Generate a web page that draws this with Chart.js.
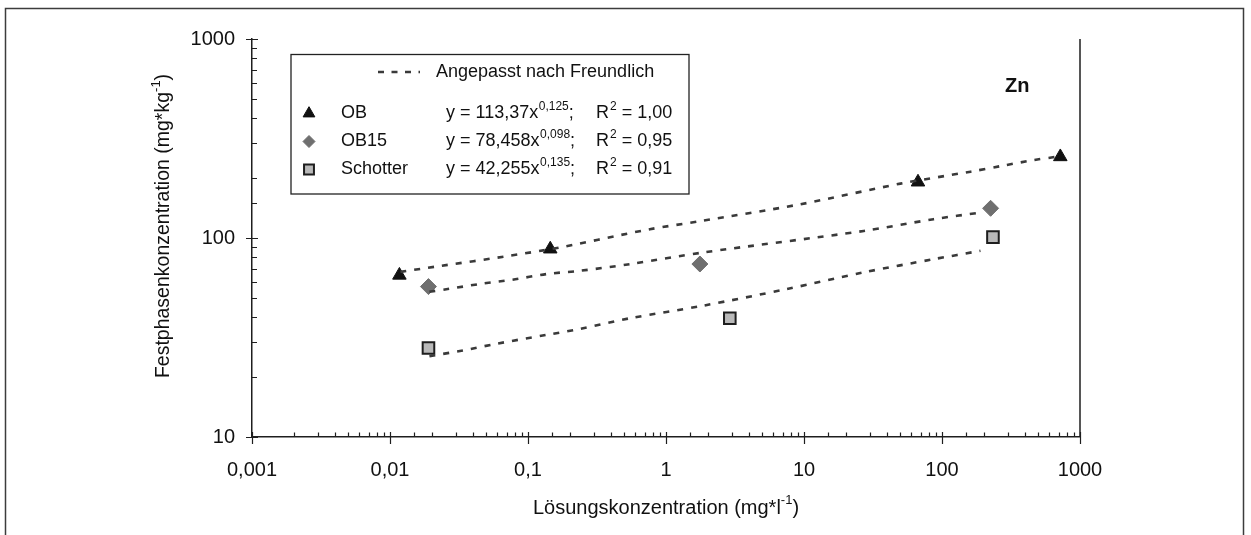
<!DOCTYPE html>
<html>
<head>
<meta charset="utf-8">
<title>Zn – Freundlich-Isothermen</title>
<script src="https://cdn.jsdelivr.net/npm/chart.js@4/dist/chart.umd.min.js"></script>
<style>
  html, body { margin: 0; padding: 0; background: #fff; }
  #wrap { width: 1251px; height: 535px; position: relative; }
  canvas { display: block; }
</style>
</head>
<body>
<div id="wrap"><canvas id="c" width="1251" height="535"></canvas></div>
<script>
// Messwerte: Lösungskonzentration (mg/l) und Festphasenkonzentration (mg/kg)
const obX = [0.0117, 0.145, 67, 720];
const obY = [65, 88, 191, 256];
const ob15X = [0.019, 1.76, 225];
const ob15Y = [57, 74, 141];
const schotterX = [0.019, 2.9, 234];
const schotterY = [28, 39.5, 101];

// Angepasste Kurven nach Freundlich (gestrichelt)
const obFitX = [0.0119, 0.136, 0.764, 1.76, 9.39, 50.0, 161, 266, 462, 667];
const obFitY = [67.6, 87.2, 110.7, 121.4, 147.7, 187.6, 215.4, 229.8, 246.3, 255.6];
const ob15FitX = [0.0193, 0.0262, 0.0445, 0.0773, 0.136, 0.237, 0.547, 1.86, 27.1, 86.8, 190];
const ob15FitY = [53.7, 55.4, 58.7, 61.7, 65.9, 68.4, 73.9, 84.6, 108.5, 124.3, 134.2];
const schotterFitX = [0.0193, 0.0337, 0.0589, 0.136, 0.237, 0.547, 1.86, 7.51, 27.1, 87.2, 190];
const schotterFitY = [25.5, 27.2, 29.4, 32.6, 34.9, 39.5, 45.7, 55.4, 67.2, 78.3, 86.2];

// Achsenbeschriftung
const xTickLabels = ['0,001', '0,01', '0,1', '1', '10', '100', '1000'];
const yTickLabels = ['10', '100', '1000'];
const xRange = [0.001, 1000];
const yRange = [10, 1000];

// Legendentexte
const fitLabel = 'Angepasst nach Freundlich';
const seriesNames = ['OB', 'OB15', 'Schotter'];
const eqA = ['113,37', '78,458', '42,255'];
const eqB = ['0,125', '0,098', '0,135'];
const r2 = ['1,00', '0,95', '0,91'];
const elementLabel = 'Zn';

const FONT = '"Liberation Sans", Arial, Helvetica, sans-serif';
const zip = (xs, ys) => xs.map((x, i) => ({ x, y: ys[i] }));

function decadeLabel(v, labels, min) {
  const e = Math.log10(v);
  if (Math.abs(e - Math.round(e)) > 1e-6) return '';
  const idx = Math.round(e - Math.log10(min));
  return labels[idx] !== undefined ? labels[idx] : '';
}

const fitStyle = {
  type: 'line', showLine: true, pointRadius: 0, borderColor: '#3a3a3a',
  borderWidth: 2.6, borderDash: [6, 8], fill: false, tension: 0.3
};

const markers = [
  { pointStyle: 'triangle', radius: 7.8, bg: '#111111', border: '#111111', bw: 1 },
  { pointStyle: 'rectRot', radius: 8, bg: '#6f6f6f', border: '#6f6f6f', bw: 1 },
  { pointStyle: 'rect', radius: 8.2, bg: '#b9b9b9', border: '#1e1e1e', bw: 2 }
];

function pointSet(label, data, m) {
  return {
    type: 'scatter', label, data, showLine: false,
    pointStyle: m.pointStyle, pointRadius: m.radius, pointBackgroundColor: m.bg,
    pointBorderColor: m.border, pointBorderWidth: m.bw
  };
}

// Rahmen, Teilstriche, Legende, Achsentitel
const decor = {
  id: 'decor',
  afterDraw(chart) {
    const { ctx, chartArea: a, scales } = chart;
    const xs = scales.x, ys = scales.y;
    ctx.save();

    // äußerer Rahmen
    ctx.strokeStyle = '#3c3c3c';
    ctx.lineWidth = 1.5;
    ctx.beginPath();
    ctx.moveTo(5.5, 540); ctx.lineTo(5.5, 8.5); ctx.lineTo(1243.5, 8.5); ctx.lineTo(1243.5, 540);
    ctx.stroke();

    // rechte Begrenzung des Diagramms
    ctx.strokeStyle = '#1e1e1e';
    ctx.lineWidth = 1.5;
    ctx.beginPath();
    ctx.moveTo(a.right, a.top); ctx.lineTo(a.right, a.bottom);
    ctx.stroke();

    // Teilstriche
    ctx.lineWidth = 1.2;
    ctx.beginPath();
    xs.ticks.forEach(t => {
      const px = Math.round(xs.getPixelForValue(t.value)) + 0.5;
      const major = decadeLabel(t.value, xTickLabels, xRange[0]) !== '';
      if (major) { ctx.moveTo(px, a.bottom - 5); ctx.lineTo(px, a.bottom + 7); }
      else { ctx.moveTo(px, a.bottom); ctx.lineTo(px, a.bottom - 4.5); }
    });
    ys.ticks.forEach(t => {
      const py = Math.round(ys.getPixelForValue(t.value)) + 0.5;
      const major = decadeLabel(t.value, yTickLabels, yRange[0]) !== '';
      if (major) { ctx.moveTo(a.left - 6, py); ctx.lineTo(a.left + 6, py); }
      else { ctx.moveTo(a.left, py); ctx.lineTo(a.left + 5, py); }
    });
    ctx.stroke();

    // Element
    ctx.fillStyle = '#111';
    ctx.font = 'bold 20px ' + FONT;
    ctx.textAlign = 'left';
    ctx.textBaseline = 'middle';
    ctx.fillText(elementLabel, 1005, 86);

    // Legende
    const L = { x: 291, y: 54.5, w: 398, h: 139.5 };
    ctx.fillStyle = '#fff';
    ctx.fillRect(L.x, L.y, L.w, L.h);
    ctx.strokeStyle = '#222';
    ctx.lineWidth = 1.3;
    ctx.strokeRect(L.x, L.y, L.w, L.h);

    ctx.strokeStyle = '#3a3a3a';
    ctx.lineWidth = 2.6;
    ctx.setLineDash([6, 7.5]);
    ctx.beginPath(); ctx.moveTo(378, 72); ctx.lineTo(420, 72); ctx.stroke();
    ctx.setLineDash([]);

    ctx.fillStyle = '#111';
    ctx.font = '18px ' + FONT;
    ctx.textBaseline = 'middle';
    ctx.fillText(fitLabel, 436, 72);

    const rows = [113.5, 141.5, 169.5];
    const legendMarks = [
      { style: 'triangle', r: 6.8 },
      { style: 'rectRot', r: 6 },
      { style: 'rect', r: 7 }
    ];
    rows.forEach((ry, i) => {
      const m = markers[i];
      ctx.fillStyle = m.bg; ctx.strokeStyle = m.border; ctx.lineWidth = m.bw;
      Chart.helpers.drawPoint(ctx, { pointStyle: legendMarks[i].style, radius: legendMarks[i].r, borderWidth: m.bw, rotation: 0 }, 309, ry);
      ctx.fillStyle = '#111';
      ctx.font = '18px ' + FONT;
      ctx.fillText(seriesNames[i], 341, ry);
      // y = a·x^b;  R² = ...
      let x = 446;
      const base = 'y = ' + eqA[i] + 'x';
      ctx.fillText(base, x, ry);
      x += ctx.measureText(base).width;
      ctx.font = '12px ' + FONT;
      ctx.fillText(eqB[i], x + 0.5, ry - 7);
      x += ctx.measureText(eqB[i]).width + 0.5;
      ctx.font = '18px ' + FONT;
      ctx.fillText(';', x, ry);
      let rx = 596;
      ctx.fillText('R', rx, ry);
      rx += ctx.measureText('R').width + 1;
      ctx.font = '12px ' + FONT;
      ctx.fillText('2', rx, ry - 7);
      rx += ctx.measureText('2').width;
      ctx.font = '18px ' + FONT;
      ctx.fillText(' = ' + r2[i], rx, ry);
    });

    // Achsentitel mit Exponenten
    function titleWithSup(parts, cx, cy, rotate, size) {
      ctx.save();
      ctx.translate(cx, cy);
      if (rotate) ctx.rotate(-Math.PI / 2);
      const big = size + 'px ' + FONT, small = Math.round(size * 0.66) + 'px ' + FONT;
      let w = 0;
      parts.forEach(p => { ctx.font = p.sup ? small : big; w += ctx.measureText(p.t).width; });
      let x = -w / 2;
      ctx.fillStyle = '#111';
      ctx.textAlign = 'left';
      ctx.textBaseline = 'middle';
      parts.forEach(p => {
        ctx.font = p.sup ? small : big;
        ctx.fillText(p.t, x, p.sup ? -size * 0.4 : 0);
        x += ctx.measureText(p.t).width;
      });
      ctx.restore();
    }
    titleWithSup([{ t: 'Lösungskonzentration (mg*l' }, { t: '-1', sup: true }, { t: ')' }],
      (a.left + a.right) / 2, 508, false, 20);
    titleWithSup([{ t: 'Festphasenkonzentration (mg*kg' }, { t: '-1', sup: true }, { t: ')' }],
      164, 226, true, 19.5);

    ctx.restore();
  }
};

new Chart(document.getElementById('c'), {
  type: 'scatter',
  data: {
    datasets: [
      Object.assign({ label: 'OB (Freundlich)', data: zip(obFitX, obFitY) }, fitStyle),
      Object.assign({ label: 'OB15 (Freundlich)', data: zip(ob15FitX, ob15FitY) }, fitStyle),
      Object.assign({ label: 'Schotter (Freundlich)', data: zip(schotterFitX, schotterFitY) }, fitStyle),
      pointSet(seriesNames[0], zip(obX, obY), markers[0]),
      pointSet(seriesNames[1], zip(ob15X, ob15Y), markers[1]),
      pointSet(seriesNames[2], zip(schotterX, schotterY), markers[2])
    ]
  },
  options: {
    responsive: false,
    animation: false,
    layout: { padding: { left: 0, right: 171, top: 39, bottom: 0 } },
    plugins: { legend: { display: false }, tooltip: { enabled: false } },
    scales: {
      x: {
        type: 'logarithmic', min: xRange[0], max: xRange[1],
        afterFit(s) { s.height = 98; },
        grid: { display: false, drawTicks: false },
        border: { display: true, color: '#1e1e1e', width: 1.5 },
        ticks: {
          autoSkip: false, maxRotation: 0, padding: 21, color: '#111',
          font: { family: FONT, size: 20 },
          callback: v => decadeLabel(v, xTickLabels, xRange[0])
        }
      },
      y: {
        type: 'logarithmic', min: yRange[0], max: yRange[1],
        afterFit(s) { s.width = 252; },
        grid: { display: false, drawTicks: false },
        border: { display: true, color: '#1e1e1e', width: 1.5 },
        ticks: {
          autoSkip: false, padding: 17, color: '#111',
          font: { family: FONT, size: 20 },
          callback: v => decadeLabel(v, yTickLabels, yRange[0])
        }
      }
    }
  },
  plugins: [decor]
});
</script>
</body>
</html>
